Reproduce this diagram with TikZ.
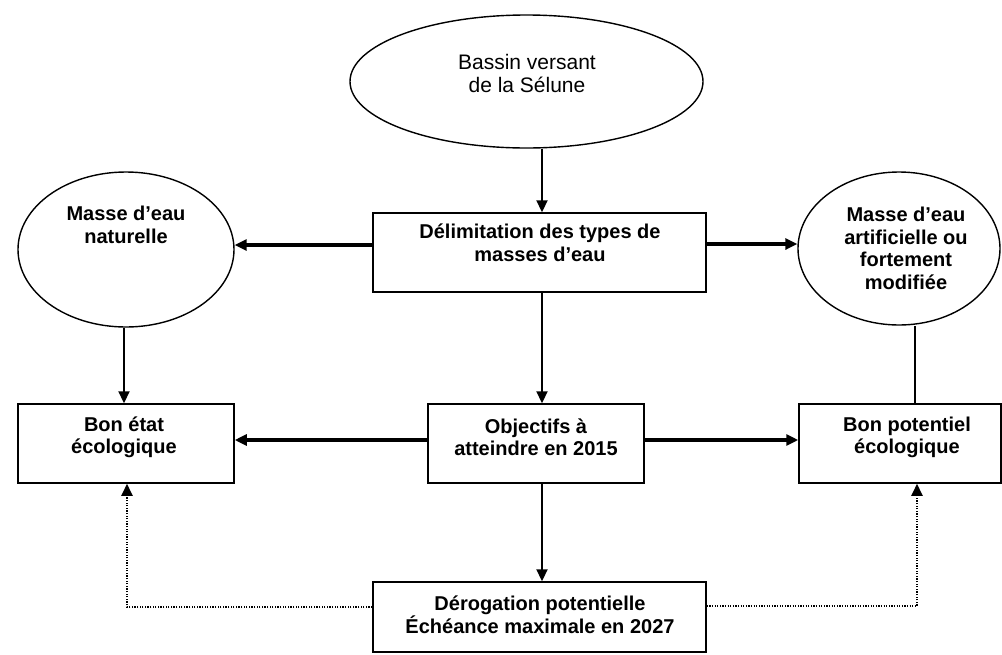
\documentclass[tikz,border=0pt]{standalone}
\usepackage{fontspec}
\setmainfont{Liberation Sans}
\usetikzlibrary{shapes.geometric,arrows.meta}
\begin{document}
\begin{tikzpicture}[x=1pt,y=-1pt,
  shapebox/.style={draw,line width=1.5pt,rectangle,inner sep=0pt,minimum width=#1},
  oval/.style={draw,line width=1.4pt,ellipse,inner sep=0pt},
  txt/.style={align=center,font=\fontsize{20}{22.5}\selectfont\bfseries,inner sep=0pt},
  txtreg/.style={align=center,font=\fontsize{21}{23}\selectfont,inner sep=0pt},
  tip/.style={-{Triangle[length=12pt,width=11pt]}},
  hline/.style={tip,line width=3.2pt},
  vline/.style={tip,line width=2.2pt},
  dotline/.style={tip,line width=2pt,dash pattern=on 1.3pt off 1.3pt}]
\useasboundingbox (0,0) rectangle (1002,654);
% shapes
\node[oval,minimum width=353pt,minimum height=133pt] (ellT) at (526.5,81.5) {};
\node[oval,minimum width=216pt,minimum height=155pt] (ellL) at (126,249.5) {};
\node[oval,minimum width=202pt,minimum height=153pt] (ellR) at (899,248.5) {};
\node[shapebox=333pt,minimum height=79pt] (delim) at (539.5,252.5) {};
\node[shapebox=216pt,minimum height=79pt] (etat) at (126,443.5) {};
\node[shapebox=216pt,minimum height=79pt] (obj) at (536,443.5) {};
\node[shapebox=202pt,minimum height=79pt] (pot) at (900,443.5) {};
\node[shapebox=333pt,minimum height=70pt] (der) at (539.5,617) {};
% texts
\node[txtreg] (tT) at (527,73.5) {Bassin versant\\de la Sélune};
\node[txt] (tL) at (126,225) {Masse d’eau\\naturelle};
\node[txt] (tD) at (540,243) {Délimitation des types de\\masses d’eau};
\node[txt] (tR) at (906,248.5) {Masse d’eau\\artificielle ou\\fortement\\modifiée};
\node[txt] (tE) at (124,437.5) {Bon état\\écologique};
\node[txt] (tO) at (536,437.5) {Objectifs à\\atteindre en 2015};
\node[txt] (tP) at (907,437.5) {Bon potentiel\\écologique};
\node[txt] (tDer) at (540,615) {Dérogation potentielle\\Échéance maximale en 2027};
% connectors
\draw[vline] ([xshift=2.5pt]delim.north |- ellT.south) -- ([xshift=2.5pt]delim.north);
\draw[hline] ([yshift=7.5pt]delim.west) -- ([yshift=4.5pt]ellL.east);
\draw[hline] ([yshift=8.5pt]delim.east) -- ([yshift=4.5pt]ellR.west);
\draw[vline] ([xshift=-2pt]ellL.south) -- ([xshift=-2pt]etat.north);
\draw[vline] ([xshift=2.5pt]delim.south) -- ([xshift=2.5pt]delim.south |- obj.north);
\draw[hline] ([yshift=3.5pt]obj.west) -- ([yshift=3.5pt]etat.east);
\draw[hline] ([yshift=3.5pt]obj.east) -- ([yshift=3.5pt]pot.west);
\draw[vline] ([xshift=2.5pt]der.north |- obj.south) -- ([xshift=2.5pt]der.north);
\draw[line width=1.4pt] ([xshift=15pt]pot.north) -- ([xshift=15pt]pot.north |- ellR.south);
\draw[dotline] ([yshift=10pt]der.west) -| ([xshift=1pt]etat.south);
\draw[dotline] ([yshift=11pt]der.east) -| ([xshift=17pt]pot.south);
\end{tikzpicture}
\end{document}
